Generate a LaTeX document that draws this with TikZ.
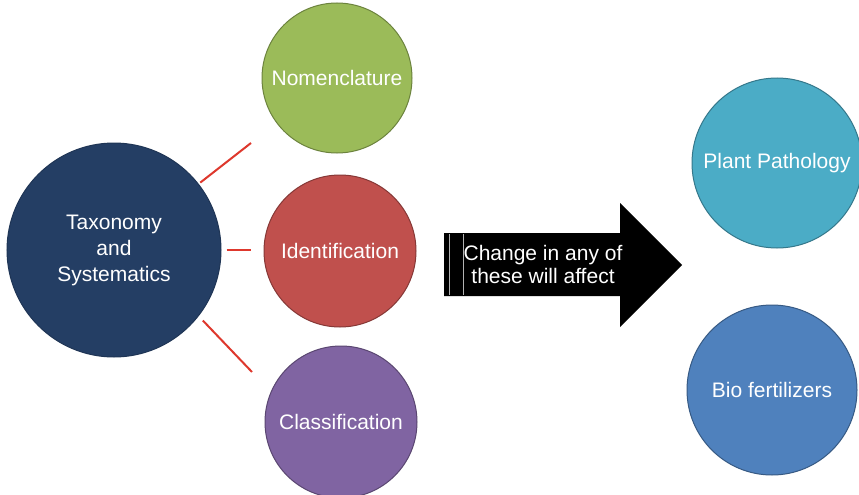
\documentclass[tikz,border=0pt]{standalone}
\usepackage{fontspec}
\setmainfont{Liberation Sans}
\definecolor{taxblue}{RGB}{36,62,100}
\definecolor{nomgreen}{RGB}{155,187,89}
\definecolor{idered}{RGB}{192,80,77}
\definecolor{clapurple}{RGB}{128,100,162}
\definecolor{ppcyan}{RGB}{75,172,198}
\definecolor{bioblue}{RGB}{79,129,189}
\definecolor{linered}{RGB}{222,56,45}
\begin{document}
\begin{tikzpicture}[x=1pt,y=-1pt,
  bubble/.style={circle, line width=1pt, inner sep=0pt, text=white,
    font=\fontsize{21}{26}\selectfont, align=center},
  conn/.style={draw=linered, line width=2pt},
  stripe/.style={draw=gray!60, line width=0.8pt}]
\useasboundingbox (0,0) rectangle (859,495);
\clip (0,0) rectangle (859,495);
\fill[white] (0,0) rectangle (859,495);

\node[bubble, fill=taxblue, draw=taxblue!85!black, minimum size=214pt] (tax) at (114,250) {Taxonomy\\and\\Systematics};
\node[bubble, fill=nomgreen, draw=nomgreen!70!black, minimum size=150pt] (nom) at (337,78) {Nomenclature};
\node[bubble, fill=idered, draw=idered!70!black, minimum size=152pt] (ide) at (340,251) {Identification};
\node[bubble, fill=clapurple, draw=clapurple!70!black, minimum size=152pt] (cla) at (341,422) {Classification};
\node[bubble, fill=ppcyan, draw=ppcyan!70!black, minimum size=170pt] (pp) at (777,163) {Plant Pathology};
\node[bubble, fill=bioblue, draw=bioblue!70!black, minimum size=170pt] (bio) at (772,390) {Bio fertilizers};

\coordinate (e1) at (251,143);
\coordinate (e2) at (251,250);
\coordinate (e3) at (252,372);
\draw[conn, shorten <=2pt] (tax.38) -- (e1);
\draw[conn, shorten <=5pt] (tax.0) -- (e2);
\draw[conn, shorten <=6pt] (tax.-38) -- (e3);

\fill[black] (444,233) -- (620,233) -- (620,203) -- (682,265) -- (620,327) -- (620,296) -- (444,296) -- cycle;
\draw[stripe] (449,234) -- (449,295);
\draw[stripe] (463,234) -- (463,295);
\node[text=white, font=\fontsize{21}{23}\selectfont, align=center, inner sep=0pt] (arrowtxt) at (543,264) {Change in any of\\these will affect};
\end{tikzpicture}
\end{document}
